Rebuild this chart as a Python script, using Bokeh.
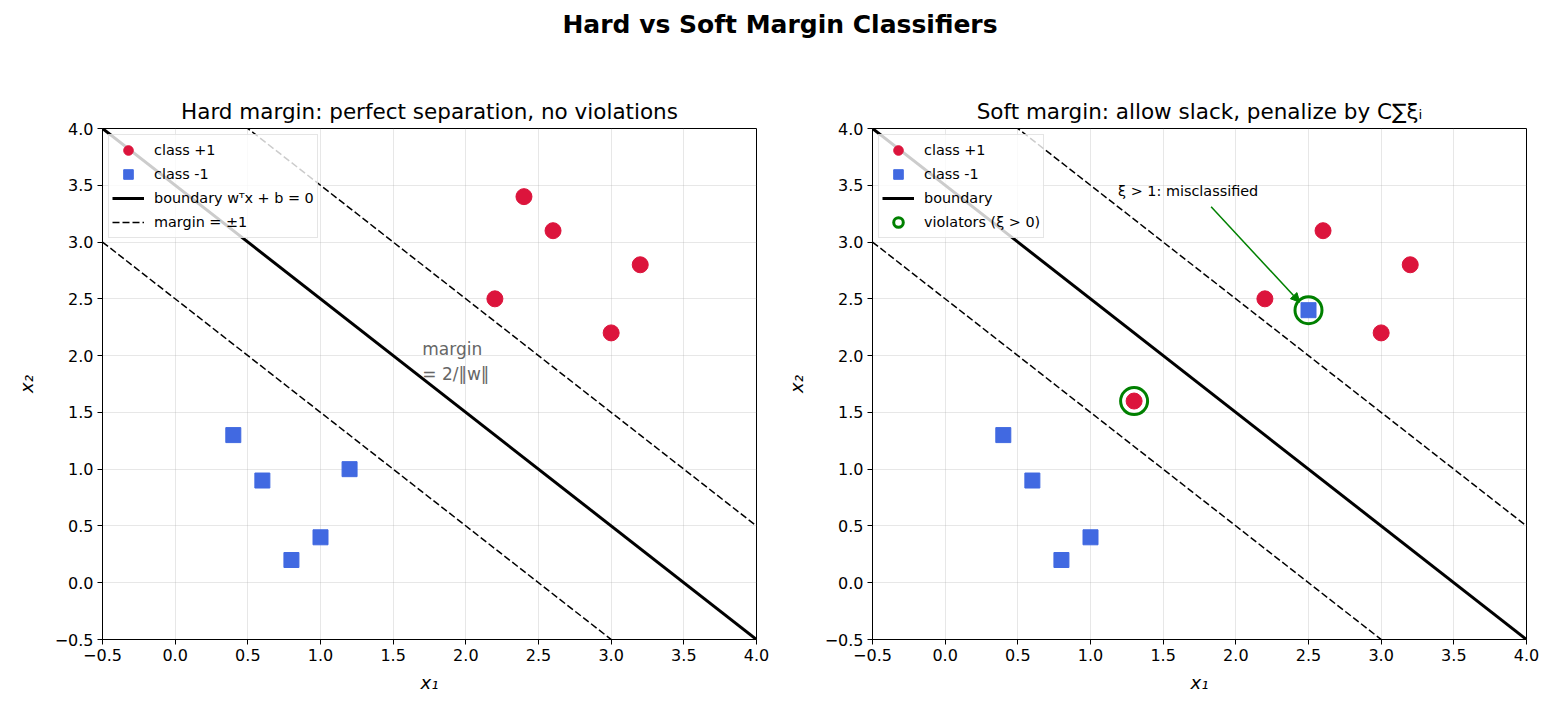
from bokeh.plotting import figure
from bokeh.layouts import column, row
from bokeh.models import (Div, Legend, LegendItem, Arrow, NormalHead,
                          FixedTicker, CustomJSTickFormatter, Range1d)
from bokeh.core.properties import value
from bokeh.embed import file_html
from bokeh.resources import INLINE

FONT = "DejaVu Sans"
RED = "#DC143C"
BLUE = "#4169E1"
GREEN = "#008000"

# Decision boundary x1 + x2 = c, margins at c +/- 1
boundary_c = 3.5
margin_offset = 1.0
axis_lo, axis_hi = -0.5, 4.0
ticks = [-0.5, 0.0, 0.5, 1.0, 1.5, 2.0, 2.5, 3.0, 3.5, 4.0]

# Hard-margin data (linearly separable)
hard_pos_x1 = [2.2, 2.4, 2.6, 3.2, 3.0]
hard_pos_x2 = [2.5, 3.4, 3.1, 2.8, 2.2]
hard_neg_x1 = [0.4, 0.6, 0.8, 1.0, 1.2]
hard_neg_x2 = [1.3, 0.9, 0.2, 0.4, 1.0]

# Soft-margin data (with two points on the wrong side)
soft_pos_x1 = [2.2, 2.6, 3.2, 3.0, 1.3]
soft_pos_x2 = [2.5, 3.1, 2.8, 2.2, 1.6]
soft_neg_x1 = [0.4, 0.6, 0.8, 1.0, 2.5]
soft_neg_x2 = [1.3, 0.9, 0.2, 0.4, 2.4]
violator_x1 = [1.3, 2.5]
violator_x2 = [1.6, 2.4]

line_x = [axis_lo, axis_hi]


def line_y(c):
    return [c - x for x in line_x]


fmt = CustomJSTickFormatter(code="""
    return (tick < 0 ? '\u2212' : '') + Math.abs(tick).toFixed(1);
""")


def make_axes(title, width, border_left, border_right):
    p = figure(width=width, height=665, output_backend="svg", toolbar_location=None,
               x_range=Range1d(axis_lo, axis_hi), y_range=Range1d(axis_lo, axis_hi),
               min_border_left=border_left, min_border_right=border_right,
               min_border_top=78, min_border_bottom=76, title=title)
    p.title.text_font = FONT
    p.title.text_font_size = "21.5px"
    p.title.text_font_style = "normal"
    p.title.text_color = "black"
    p.title.align = "center"
    p.title.standoff = 10
    p.outline_line_color = "black"
    p.outline_line_alpha = 1.0
    p.outline_line_width = 1
    p.background_fill_color = "white"
    p.border_fill_color = "white"
    for ax in (p.xaxis[0], p.yaxis[0]):
        ax.ticker = FixedTicker(ticks=ticks)
        ax.formatter = fmt
        ax.major_label_text_font = FONT
        ax.major_label_text_font_size = "16px"
        ax.major_label_text_color = "black"
        ax.major_tick_in = 0
        ax.major_tick_out = 5
        ax.minor_tick_in = 0
        ax.minor_tick_out = 0
        ax.major_label_standoff = 4
        ax.axis_label_text_font = FONT
        ax.axis_label_text_font_size = "18px"
        ax.axis_label_text_font_style = "italic"
        ax.axis_label_text_color = "black"
        ax.axis_line_color = "black"
        ax.major_tick_line_color = "black"
    p.xaxis.axis_label = "x\u2081"
    p.yaxis.axis_label = "x\u2082"
    p.xaxis.axis_label_standoff = 8
    p.yaxis.axis_label_standoff = 15
    for g in (p.xgrid[0], p.ygrid[0]):
        g.ticker = FixedTicker(ticks=ticks)
        g.grid_line_color = "#b0b0b0"
        g.grid_line_alpha = 0.3
        g.grid_line_width = 1
    return p


def style_legend(p, items):
    leg = Legend(items=items, location="top_left")
    leg.label_text_font = FONT
    leg.label_text_font_size = "14.4px"
    leg.label_text_color = "black"
    leg.label_height = 20
    leg.glyph_height = 24
    leg.glyph_width = 32
    leg.spacing = 0
    leg.padding = 3
    leg.margin = 6
    leg.label_standoff = 10
    leg.background_fill_color = "white"
    leg.background_fill_alpha = 0.8
    leg.border_line_color = "#cccccc"
    leg.border_line_width = 1
    p.add_layout(leg)


# ---- Left panel: hard margin ----
p1 = make_axes("Hard margin: perfect separation, no violations", 782, 102, 26)
m_up = p1.line(line_x, line_y(boundary_c + margin_offset), line_color="black",
               line_width=1.5, line_dash="7 3")
p1.line(line_x, line_y(boundary_c - margin_offset), line_color="black",
        line_width=1.5, line_dash="7 3")
b1 = p1.line(line_x, line_y(boundary_c), line_color="black", line_width=3)
r_pos1 = p1.scatter(hard_pos_x1, hard_pos_x2, marker="circle", size=16,
                    fill_color=RED, line_color=RED)
r_neg1 = p1.scatter(hard_neg_x1, hard_neg_x2, marker="square", size=15,
                    fill_color=BLUE, line_color=BLUE)
p1.text(x=[1.70], y=[1.95], text=["margin\n= 2/\u2016w\u2016"],
        text_font=value(FONT), text_font_size="17px", text_color="#666666",
        text_align="left", text_baseline="middle", text_line_height=1.25)
style_legend(p1, [
    LegendItem(label="class +1", renderers=[r_pos1]),
    LegendItem(label="class -1", renderers=[r_neg1]),
    LegendItem(label="boundary w\u1d40x + b = 0", renderers=[b1]),
    LegendItem(label="margin = \u00b11", renderers=[m_up]),
])

# ---- Right panel: soft margin ----
p2 = make_axes("Soft margin: allow slack, penalize by C\u2211\u03be\u1d62", 778, 90, 34)
p2.line(line_x, line_y(boundary_c + margin_offset), line_color="black",
        line_width=1.5, line_dash="7 3")
p2.line(line_x, line_y(boundary_c - margin_offset), line_color="black",
        line_width=1.5, line_dash="7 3")
b2 = p2.line(line_x, line_y(boundary_c), line_color="black", line_width=3)
r_pos2 = p2.scatter(soft_pos_x1, soft_pos_x2, marker="circle", size=16,
                    fill_color=RED, line_color=RED)
r_neg2 = p2.scatter(soft_neg_x1, soft_neg_x2, marker="square", size=15,
                    fill_color=BLUE, line_color=BLUE)
r_vio = p2.scatter(violator_x1, violator_x2, marker="circle", size=27,
                   fill_color=None, line_color=GREEN, line_width=3)
p2.add_layout(Arrow(x_start=1.83, y_start=3.31, x_end=2.44, y_end=2.47,
                    line_color=GREEN, line_width=1.5,
                    end=NormalHead(size=9, fill_color=GREEN, line_color=GREEN)))
p2.text(x=[1.19], y=[3.45], text=["\u03be > 1: misclassified"],
        text_font=value(FONT), text_font_size="14.4px", text_color="black",
        text_align="left", text_baseline="middle")
style_legend(p2, [
    LegendItem(label="class +1", renderers=[r_pos2]),
    LegendItem(label="class -1", renderers=[r_neg2]),
    LegendItem(label="boundary", renderers=[b2]),
    LegendItem(label="violators (\u03be > 0)", renderers=[r_vio]),
])

header = Div(text="<b>Hard vs Soft Margin Classifiers</b>", width=1560, height=50,
             margin=0,
             styles={"text-align": "center", "font-size": "25px",
                     "font-family": FONT, "line-height": "50px", "width": "1560px",
                     "color": "black"})

layout = column(header, row(p1, p2, spacing=0), spacing=0)

with open("out.html", "w") as f:
    f.write(file_html(layout, INLINE))
